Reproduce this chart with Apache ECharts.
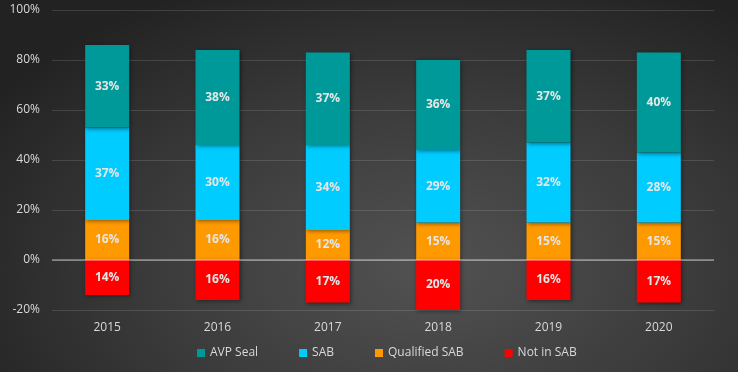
<!DOCTYPE html>
<html>
<head>
<meta charset="utf-8">
<script src="https://cdn.jsdelivr.net/npm/echarts@6/dist/echarts.min.js"></script>
<style>
html,body{margin:0;padding:0;}
body{width:738px;height:372px;background:radial-gradient(ellipse 70% 85% at 58% 72%, #525252 0%, #3a3a3a 55%, #222 100%);}
#c{width:738px;height:372px;}
</style>
</head>
<body>
<div id="c"></div>
<script>
const categories = ['2015','2016','2017','2018','2019','2020'];
const qualifiedSAB = [16,16,12,15,15,15];
const sab = [37,30,34,29,32,28];
const avpSeal = [33,38,37,36,37,40];
const notInSAB = [-14,-16,-17,-20,-16,-17];
const yTicks = [-20,0,20,40,60,80,100];

const font = 'Open Sans, Liberation Sans, sans-serif';
const lbl = {show:true, position:'inside', color:'#e6e6e6', fontSize:12, fontWeight:'bold', fontFamily:font,
  formatter:p=>Math.abs(p.value)+'%'};
const shadow = {shadowBlur:4, shadowColor:'rgba(0,0,0,0.45)', shadowOffsetX:1, shadowOffsetY:1};
function s(name, data, color){
  return {name, type:'bar', stack:'a', data, barWidth:44, label:lbl,
    itemStyle:Object.assign({color}, shadow)};
}
const chart = echarts.init(document.getElementById('c'));
chart.setOption({
  animation:false,
  backgroundColor:'transparent',
  grid:{left:52, right:24, top:10, bottom:62},
  xAxis:{type:'category', data:categories,
    axisLine:{show:false}, axisTick:{show:false},
    axisLabel:{color:'#d9d9d9', fontSize:12, fontFamily:font, margin:12}},
  yAxis:{type:'value', min:-20, max:100, interval:20,
    axisLabel:{color:'#d9d9d9', fontSize:12, fontFamily:font, formatter:v=>v+'%', margin:12},
    axisLine:{show:false}, axisTick:{show:false},
    splitLine:{lineStyle:{color:'rgba(255,255,255,0.13)', width:1}}},
  legend:{bottom:8, left:192, itemWidth:8, itemHeight:8, itemGap:41, icon:'rect',
    textStyle:{color:'#d9d9d9', fontSize:12, fontFamily:font},
    data:['AVP Seal','SAB','Qualified SAB','Not in SAB']},
  series:[
    s('Qualified SAB', qualifiedSAB, '#ff9900'),
    s('SAB', sab, '#00ccff'),
    s('AVP Seal', avpSeal, '#009999'),
    Object.assign(s('Not in SAB', notInSAB, '#ff0000'), {
      markLine:{silent:true, symbol:'none', label:{show:false},
        lineStyle:{color:'rgba(255,255,255,0.45)', width:1.5, type:'solid'},
        data:[{yAxis:0}]}
    })
  ]
});
</script>
</body>
</html>
